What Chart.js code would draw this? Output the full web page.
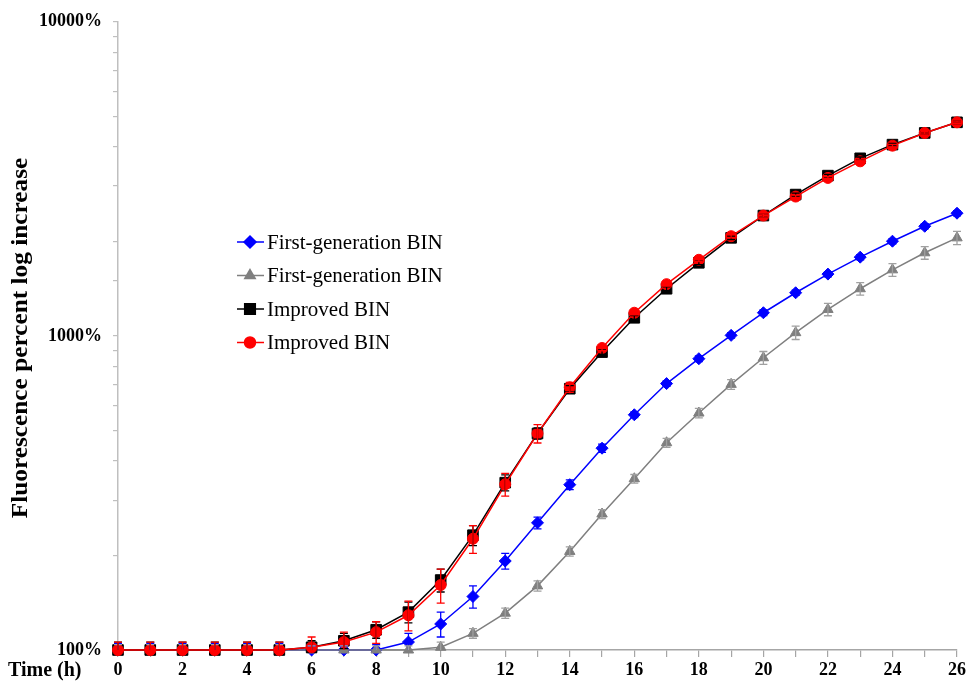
<!DOCTYPE html>
<html>
<head>
<meta charset="utf-8">
<script src="https://cdn.jsdelivr.net/npm/chart.js@4/dist/chart.umd.min.js"></script>
<style>
html,body{margin:0;padding:0;background:#fff;}
#wrap{width:969px;height:685px;position:relative;}
</style>
</head>
<body>
<div id="wrap"><canvas id="c" width="969" height="685"></canvas></div>
<script>
// ---- data ----
const hours = [0,1,2,3,4,5,6,7,8,9,10,11,12,13,14,15,16,17,18,19,20,21,22,23,24,25,26];
const seriesNames = ['First-generation BIN','First-generation BIN','Improved BIN','Improved BIN'];
const firstGenA = [100,100,100,100,100,100,100,100,100,106,121,148,192,254,336,439,561,705,846,1004,1185,1372,1573,1781,2002,2234,2458];
const firstGenB = [100,100,100,100,100,100,100,100,100,100,102,113,131,160,206,271,351,457,568,701,852,1024,1214,1413,1623,1839,2052];
const improvedA = [100,100,100,100,100,100,102,107,116,132,167,232,341,489,679,888,1142,1413,1709,2052,2416,2818,3238,3676,4064,4427,4786];
const improvedB = [100,100,100,100,100,100,102,106,114,129,161,226,337,489,686,915,1185,1461,1747,2077,2416,2777,3184,3596,4033,4427,4786];
const errFirstGenA = [5,5,5,5,5,5,3,3,4,7,11,12,11,11,12,13,12,14,17,20,24,27,30,34,38,42,46];
const errFirstGenB = [4,4,4,4,4,4,3,3,3,3,4,4,5,6,7,9,11,15,20,25,40,50,55,65,75,85,100];
const errImprovedA = [6,6,6,6,6,6,5,6,7,10,14,17,20,20,16,15,18,20,22,25,28,30,32,35,38,40,42];
const errImprovedB = [6,6,6,6,6,6,8,8,9,14,20,23,28,33,25,18,18,20,22,25,28,30,32,35,38,40,42];
const yTickLabels = [100,1000,10000];
const xLabelStep = 2;

const SERIF = '"Liberation Serif", "Times New Roman", serif';

function pts(vals){ return hours.map((h,i)=>({x:h,y:vals[i]})); }

const errorBars = {
  id:'errorBars',
  afterDatasetsDraw(chart){
    const ctx = chart.ctx, ys = chart.scales.y, a = chart.chartArea;
    chart.data.datasets.forEach((ds,di)=>{
      const meta = chart.getDatasetMeta(di);
      ctx.save();
      ctx.beginPath(); ctx.rect(a.left - 10, a.top - 10, a.right - a.left + 20, a.bottom - a.top + 10); ctx.clip();
      ctx.strokeStyle = ds.errColor; ctx.lineWidth = 1.3;
      meta.data.forEach((pt,i)=>{
        const v = ds.data[i].y, e = ds.err[i];
        const yt = ys.getPixelForValue(v+e), yb = ys.getPixelForValue(Math.max(v-e,1));
        ctx.beginPath();
        ctx.moveTo(pt.x,yt); ctx.lineTo(pt.x,yb);
        ctx.moveTo(pt.x-4,yt); ctx.lineTo(pt.x+4,yt);
        ctx.moveTo(pt.x-4,yb); ctx.lineTo(pt.x+4,yb);
        ctx.stroke();
      });
      ctx.restore();
    });
  }
};

const extras = {
  id:'extras',
  afterDraw(chart){
    const ctx = chart.ctx;
    ctx.save();
    ctx.fillStyle = '#000';
    // x title
    ctx.font = 'bold 20px ' + SERIF;
    ctx.textAlign = 'left'; ctx.textBaseline = 'middle';
    ctx.fillText('Time (h)', 8, 671);
    // y title
    ctx.save();
    ctx.translate(21, 338);
    ctx.rotate(-Math.PI/2);
    ctx.scale(1.1, 1);
    ctx.font = 'bold 23px ' + SERIF;
    ctx.textAlign = 'center'; ctx.textBaseline = 'middle';
    ctx.fillText('Fluorescence percent log increase', 0, 0);
    ctx.restore();
    // legend
    const lx0 = 237, lx1 = 264, lxm = 250, ly0 = 242, ldy = 33.5;
    const order = [0,1,2,3];
    order.forEach((di,k)=>{
      const ds = chart.data.datasets[di];
      const y = ly0 + k*ldy;
      ctx.strokeStyle = ds.borderColor; ctx.lineWidth = 1.5;
      ctx.beginPath(); ctx.moveTo(lx0,y); ctx.lineTo(lx1,y); ctx.stroke();
      ctx.fillStyle = ds.pointBackgroundColor; ctx.strokeStyle = ds.pointBorderColor;
      Chart.helpers.drawPoint(ctx, {pointStyle: ds.pointStyle, radius: ds.pointRadius, borderWidth:1, rotation:0}, lxm, y);
      ctx.fillStyle = '#000';
      ctx.font = '21px ' + SERIF;
      ctx.textAlign = 'left'; ctx.textBaseline = 'middle';
      ctx.fillText(ds.label, 267, y+1);
    });
    ctx.restore();
  }
};

function mkDs(label, vals, err, color, errColor, style, radius, order){
  return {
    label, data: pts(vals), err, errColor,
    borderColor: color, backgroundColor: color,
    pointBackgroundColor: color, pointBorderColor: color,
    pointStyle: style, pointRadius: radius, pointBorderWidth: 1,
    borderWidth: 1.5, tension: 0, order, clip: false
  };
}

new Chart(document.getElementById('c'), {
  type:'line',
  data:{
    datasets:[
      mkDs(seriesNames[0], firstGenA, errFirstGenA, '#0000ff', '#0000ff', 'rectRot', 6, 3),
      mkDs(seriesNames[1], firstGenB, errFirstGenB, '#7f7f7f', '#a0a0a0', 'triangle', 6, 2),
      mkDs(seriesNames[2], improvedA, errImprovedA, '#000000', '#000000', 'rect', 7.5, 1),
      mkDs(seriesNames[3], improvedB, errImprovedB, '#ff0000', '#ff0000', 'circle', 5.5, 0)
    ]
  },
  options:{
    responsive:false, animation:false,
    layout:{padding:{left:0, top:21, right:11, bottom:0}},
    plugins:{legend:{display:false}, tooltip:{enabled:false}},
    scales:{
      x:{
        type:'linear', min:0, max:26,
        afterFit(s){ s.height = 35; },
        border:{display:true, color:'#a6a6a6', width:1.5},
        grid:{display:true, drawOnChartArea:false, drawTicks:true, tickLength:7, color:'#a6a6a6', lineWidth:1.2},
        ticks:{stepSize:1, autoSkip:false, maxRotation:0, padding:3, color:'#000',
          font:{family:SERIF, size:18, weight:'bold'},
          callback:(v)=> (v % xLabelStep === 0 ? String(v) : '')}
      },
      y:{
        type:'logarithmic', min:100, max:10000,
        afterFit(s){ s.width = 118; },
        border:{display:true, color:'#bfbfbf', width:1.5},
        grid:{display:true, drawOnChartArea:false, drawTicks:true, tickLength:5, color:'#bfbfbf', lineWidth:1.2},
        ticks:{autoSkip:false, padding:11, color:'#000',
          font:{family:SERIF, size:18, weight:'bold'},
          callback:(v)=> (yTickLabels.includes(v) ? v + '%' : '')}
      }
    }
  },
  plugins:[errorBars, extras]
});
</script>
</body>
</html>
